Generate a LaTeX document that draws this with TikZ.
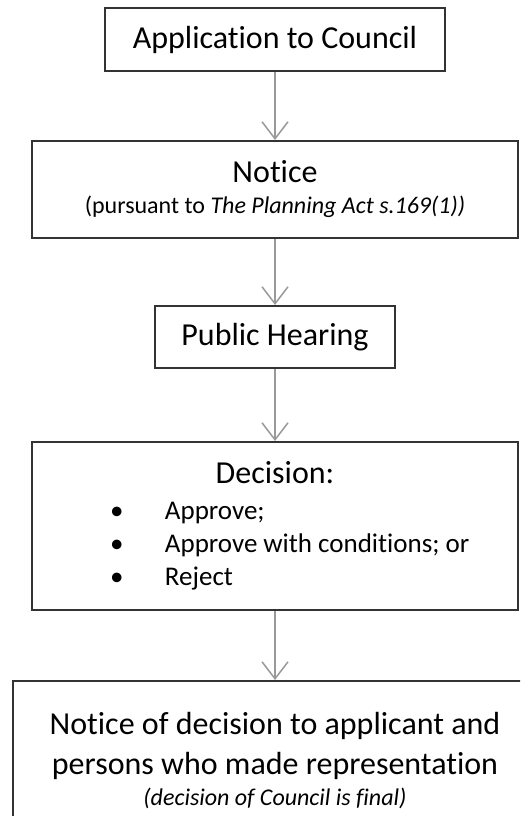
\documentclass[tikz,border=0pt]{standalone}
\usepackage{fontspec}
\setmainfont[Ligatures = NoCommon]{Carlito}
\usepackage{tikz}
\usetikzlibrary{positioning, arrows.meta}
\newcommand{\bigtxt}{\fontsize{32}{40}\selectfont}
\newcommand{\smalltxt}{\fontsize{24}{30}\selectfont}
\newcommand{\itemtxt}{\fontsize{27}{33}\selectfont\spaceskip = 6pt\xspaceskip = 6pt\relax}
\newcommand{\decitem}[1]{\makebox[\linewidth][l]{\hspace*{72pt}\makebox[55pt][l]{\textbullet}#1}\par}

\begin{document}
\begin{tikzpicture}[x = 1pt, y = 1pt,
    box/.style = {rectangle, draw = black!80, line width = 2pt, inner sep = 6pt, font = \bigtxt},
    flow/.style = {draw = black!40, line width = 1.5pt, -{Straight Barb[length = 17pt, width = 26pt]}}]
  \useasboundingbox (0, 0) rectangle (520, -816);
  \clip (0, 0) rectangle (520, -816);
  % nodes
  \node [box, minimum width = 340pt, minimum height = 63pt] (app) at (275, -39.5) {Application to Council};
  \node [box, minimum width = 486pt, minimum height = 97pt, align = center][below = 68pt of app] (notice) {Notice\\[-9pt] {\smalltxt (pursuant to \textit{The Planning Act s.169(1))}}};
  \node [box, minimum width = 240pt, minimum height = 62pt][below = 66pt of notice] (hearing) {Public Hearing};
  \node [box, minimum width = 486pt, minimum height = 168pt, text width = 474pt][below = 72pt of hearing] (decision) {{\centering Decision:\par}\vspace{3pt}{\itemtxt
    \decitem{Approve;}
    \decitem{Approve with conditions; or}
    \decitem{Reject}}\vspace*{7pt}};
  \node [box, minimum width = 524pt, minimum height = 160pt, align = center][below = 69pt of decision] (final) {Notice of decision to applicant and\\ persons who made representation\\[-9pt] {\smalltxt\itshape (decision of Council is final)}};

  % edges
  \draw [flow] (app) to (notice);
  \draw [flow] (notice) to (hearing);
  \draw [flow] (hearing) to (decision);
  \draw [flow] (decision) to (final);
\end{tikzpicture}
\end{document}
